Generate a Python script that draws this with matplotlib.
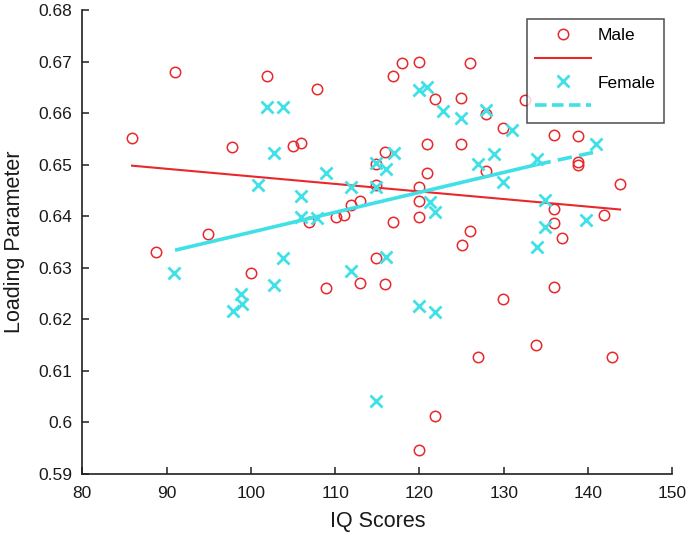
import matplotlib
matplotlib.use('Agg')
import matplotlib.pyplot as plt
from matplotlib.lines import Line2D
from matplotlib.ticker import FormatStrFormatter

plt.rcParams['font.family'] = ['Liberation Sans', 'DejaVu Sans']

# Male scores / loading parameter (red circles)
male_iq = [85.9, 88.8, 91.0, 94.9, 97.8, 100.0, 101.9, 105.0, 106.0, 106.9,
           107.9, 108.9, 110.1, 111.0, 111.9, 112.9, 112.9, 114.9, 114.9, 114.9,
           115.9, 115.9, 116.9, 116.9, 117.9, 119.9, 120.0, 120.0, 119.9, 119.9,
           120.9, 120.9, 121.9, 121.9, 124.9, 124.9, 125.0, 126.0, 126.0, 126.9,
           127.9, 127.9, 129.9, 129.9, 132.5, 133.8, 136.0, 136.0, 136.0, 136.0,
           136.9, 138.8, 138.8, 138.8, 141.9, 142.9, 143.8]
male_load = [0.6551, 0.6331, 0.6679, 0.6365, 0.6535, 0.6289, 0.6672, 0.6537, 0.6542, 0.6389,
             0.6646, 0.6260, 0.6399, 0.6402, 0.6421, 0.6429, 0.6270, 0.6502, 0.6460, 0.6318,
             0.6525, 0.6268, 0.6672, 0.6389, 0.6697, 0.6699, 0.6457, 0.6430, 0.6399, 0.5946,
             0.6540, 0.6483, 0.6627, 0.6012, 0.6630, 0.6540, 0.6345, 0.6697, 0.6371, 0.6126,
             0.6598, 0.6487, 0.6572, 0.6239, 0.6625, 0.6150, 0.6557, 0.6413, 0.6387, 0.6263,
             0.6358, 0.6555, 0.6505, 0.6499, 0.6402, 0.6126, 0.6463]

# Female (cyan crosses)
female_iq = [90.9, 97.9, 99.0, 98.8, 100.9, 101.9, 102.8, 102.8, 103.8, 103.8,
             105.9, 106.0, 107.8, 108.9, 111.9, 111.9, 114.9, 114.9, 114.9, 116.0,
             116.0, 117.0, 119.9, 119.9, 120.9, 121.2, 121.9, 121.9, 122.8, 124.9,
             126.9, 127.9, 128.9, 129.9, 131.0, 133.9, 133.9, 134.9, 134.9, 139.8,
             140.9]
female_load = [0.6290, 0.6217, 0.6230, 0.6249, 0.6460, 0.6612, 0.6523, 0.6267, 0.6611, 0.6318,
               0.6439, 0.6399, 0.6396, 0.6484, 0.6457, 0.6294, 0.6503, 0.6457, 0.6041, 0.6491,
               0.6320, 0.6523, 0.6645, 0.6225, 0.6651, 0.6428, 0.6408, 0.6214, 0.6604, 0.6591,
               0.6502, 0.6606, 0.6520, 0.6467, 0.6567, 0.6510, 0.6340, 0.6431, 0.6379, 0.6392,
               0.6540]

# fitted lines (end points)
male_fit_x = [85.9, 143.8]
male_fit_y = [0.6498, 0.6413]
female_fit_x = [91.0, 133.9, 141.0]
female_fit_y = [0.6334, 0.6500, 0.6525]

red = '#e8282c'
cyan = '#3fe0e6'

fig = plt.figure(figsize=(6.92, 5.42), dpi=100)
ax = fig.add_axes([0.1189, 0.1255, 0.8526, 0.8561])

ax.plot(male_iq, male_load, 'o', ms=7.5, mfc='none', mec=red, mew=1.1, ls='none')
ax.plot(male_fit_x, male_fit_y, '-', color=red, lw=1.5)
ax.plot(female_iq, female_load, 'x', ms=8.5, mec=cyan, mew=2.0, ls='none')
# left part looks solid in the original, only the tail is dashed
ax.plot(female_fit_x[:2], female_fit_y[:2], '-', color=cyan, lw=2.6, solid_capstyle='butt')
ax.plot(female_fit_x[1:], female_fit_y[1:], color=cyan, lw=2.6, dashes=(4.0, 2.0))

ax.set_xlim(80, 150)
ax.set_ylim(0.59, 0.68)
ax.set_xticks(range(80, 151, 10))
ax.set_yticks([0.59 + 0.01 * i for i in range(10)])
ax.yaxis.set_major_formatter(FormatStrFormatter('%g'))
ax.spines['top'].set_visible(False)
ax.spines['right'].set_visible(False)
for s in ('left', 'bottom'):
    ax.spines[s].set_linewidth(1.2)
    ax.spines[s].set_color('#202020')
ax.tick_params(direction='in', length=5, width=1.1, colors='#202020', labelsize=12.5)
ax.tick_params(axis='y', pad=7)
ax.tick_params(axis='x', pad=9)
for lab in ax.get_xticklabels() + ax.get_yticklabels():
    lab.set_color('#1a1a1a')

ax.set_xlabel('IQ Scores', fontsize=15.5, labelpad=7, color='#1a1a1a')
ax.set_ylabel('Loading Parameter', fontsize=15.5, labelpad=10, color='#1a1a1a')

handles = [
    Line2D([], [], marker='o', ms=7.5, mfc='none', mec=red, mew=1.1, ls='none'),
    Line2D([], [], color=red, lw=1.5),
    Line2D([], [], marker='x', ms=8.5, mec=cyan, mew=2.0, ls='none'),
    Line2D([], [], color=cyan, lw=2.6, dashes=(3.2, 1.5)),
]
leg = fig.legend(handles, ['Male', ' ', 'Female', ' '], loc='upper left',
                 bbox_to_anchor=(526.7 / 692, 1 - 19 / 542), borderaxespad=0,
                 fontsize=12.5, frameon=True, fancybox=False, handlelength=3.2,
                 handletextpad=0.4, labelspacing=0.5, borderpad=0.5)
leg.get_frame().set_edgecolor('#202020')
leg.get_frame().set_linewidth(1.1)

fig.savefig('out.png', dpi=100)
